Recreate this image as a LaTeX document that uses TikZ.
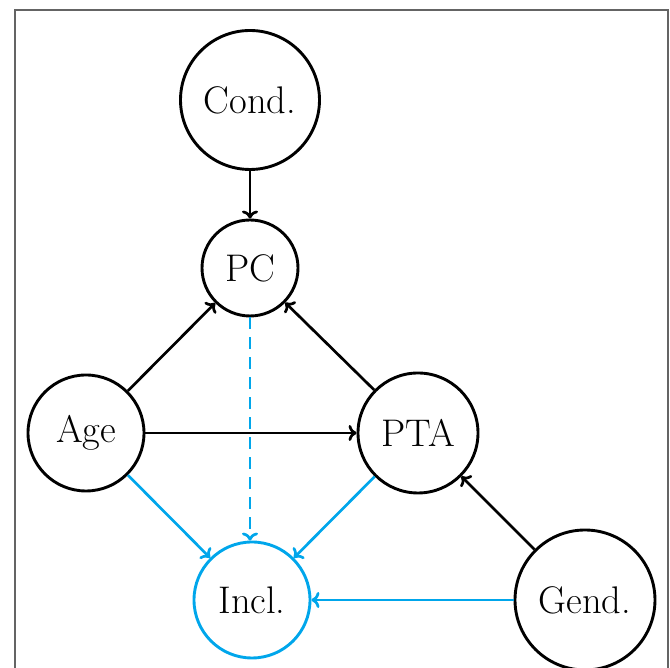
\documentclass[tikz,border=0pt]{standalone}
\usetikzlibrary{arrows.meta}
\definecolor{incblue}{RGB}{0,166,235}
\definecolor{framegray}{RGB}{100,100,100}
\begin{document}
\begin{tikzpicture}[x=1pt,y=1pt,
  var/.style={circle,draw,line width=2.9pt,inner sep=0pt,font=\fontsize{38.5}{46}\selectfont},
  edge/.style={line width=2.7pt,-{To[length=8pt,width=16pt]}},
  blueedge/.style={edge,draw=incblue},
]
\useasboundingbox (0,0) rectangle (670,668);
\draw[framegray,line width=2.2pt] (15,-2) -- (15,658) -- (668,658) -- (668,-2);
\node[var,minimum size=139pt] (cond) at (250,568) {Cond.};
\node[var,minimum size=96pt] (pc) at (250,400) {PC};
\node[var,minimum size=116pt] (age) at (86,235) {Age};
\node[var,minimum size=120pt] (pta) at (418,235) {PTA};
\node[var,draw=incblue,minimum size=116pt] (incl) at (252,68) {Incl.};
\node[var,minimum size=140pt] (gend) at (585,68) {Gend.};
\draw[edge] (cond) -- (pc);
\draw[edge] (age) -- (pc);
\draw[edge] (pta) -- (pc);
\draw[edge] (age) -- (pta);
\draw[edge] (gend) -- (pta);
\draw[blueedge,dash pattern=on 12pt off 8pt] (pc) -- (pc |- incl.north);
\draw[blueedge] (age) -- (incl);
\draw[blueedge] (pta) -- (incl);
\draw[blueedge] (gend) -- (incl);
\end{tikzpicture}
\end{document}
